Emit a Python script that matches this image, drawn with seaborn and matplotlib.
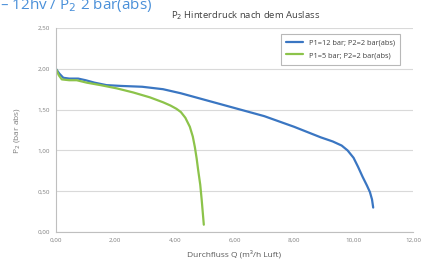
import matplotlib
matplotlib.use("Agg")
import matplotlib.pyplot as plt
import seaborn as sns
import pandas as pd
from matplotlib.ticker import FuncFormatter

# values
q_12bar = [0.0, 0.12, 0.25, 0.45, 0.75, 1.0, 1.3, 1.7, 2.2, 2.9, 3.6, 4.2, 5.0, 6.0, 6.5, 7.0,
           8.0, 8.9, 9.3, 9.6, 9.8, 10.0, 10.15, 10.3, 10.45, 10.55, 10.62, 10.66]
p_12bar = [2.00, 1.94, 1.89, 1.88, 1.88, 1.86, 1.83, 1.80, 1.79, 1.78, 1.75, 1.70, 1.62, 1.52, 1.47, 1.42,
           1.29, 1.16, 1.11, 1.06, 1.00, 0.91, 0.80, 0.68, 0.57, 0.49, 0.40, 0.30]

q_5bar = [0.0, 0.1, 0.2, 0.45, 0.7, 1.04, 1.5, 2.05, 2.6, 3.16, 3.6, 3.85, 4.05, 4.2, 4.35,
          4.5, 4.6, 4.67, 4.73, 4.78, 4.85, 4.9, 4.97]
p_5bar = [2.00, 1.92, 1.87, 1.86, 1.86, 1.83, 1.80, 1.76, 1.71, 1.65, 1.59, 1.55, 1.51, 1.47, 1.40,
          1.29, 1.17, 1.04, 0.90, 0.76, 0.58, 0.39, 0.09]

series_names = ["P1=12 bar; P2=2 bar(abs)", "P1=5 bar; P2=2 bar(abs)"]
colors = ["#3a76c2", "#8cc34a"]

df = pd.concat([
    pd.DataFrame({"Q": q_12bar, "P": p_12bar, "Serie": series_names[0]}),
    pd.DataFrame({"Q": q_5bar, "P": p_5bar, "Serie": series_names[1]}),
])

sns.set_style("white")
plt.rcParams["font.family"] = ["Open Sans", "DejaVu Sans"]

fig = plt.figure(figsize=(4.33, 2.64), dpi=100)
ax = fig.add_axes([0.129, 0.121, 0.825, 0.773])

sns.lineplot(data=df, x="Q", y="P", hue="Serie", palette=colors, sort=False,
             linewidth=1.6, ax=ax, estimator=None)

ax.set_xlim(0, 12)
ax.set_ylim(0, 2.5)
ax.set_xticks([0, 2, 4, 6, 8, 10, 12])
ax.set_yticks([0, 0.5, 1.0, 1.5, 2.0, 2.5])
fmt = FuncFormatter(lambda v, _: f"{v:.2f}".replace(".", ","))
ax.xaxis.set_major_formatter(fmt)
ax.yaxis.set_major_formatter(fmt)
ax.tick_params(labelsize=4.5, colors="#7f7f7f", length=2, width=0.6, pad=2)
ax.yaxis.grid(True, color="#d9d9d9", linewidth=0.8)
ax.set_axisbelow(True)
for s in ["top", "right"]:
    ax.spines[s].set_visible(False)
for s in ["left", "bottom"]:
    ax.spines[s].set_color("#bfbfbf")
    ax.spines[s].set_linewidth(0.8)

ax.set_xlabel("Durchfluss Q (m³/h Luft)", fontsize=6, color="#595959", labelpad=5)
ax.set_ylabel("P$_2$ (bar abs)", fontsize=6, color="#7f7f7f", labelpad=14)
ax.yaxis.set_label_coords(-0.095, 0.5)

leg = ax.legend(loc="upper right", bbox_to_anchor=(0.975, 0.99), fontsize=5.3,
                frameon=True, fancybox=False, borderpad=0.8, handlelength=2.2,
                labelspacing=0.7)
leg.get_frame().set_edgecolor("#a6a6a6")
leg.get_frame().set_linewidth(0.8)
for t in leg.get_texts():
    t.set_color("#404040")

fig.text(0.567, 0.94, "P$_2$ Hinterdruck nach dem Auslass", fontsize=6.8,
         color="#404040", ha="center", va="center")
fig.text(0.0, 0.98, "– 12hv / P$_2$ 2 bar(abs)", fontsize=11,
         color="#4a90d9", ha="left", va="center")

fig.savefig("out.png", dpi=100)
